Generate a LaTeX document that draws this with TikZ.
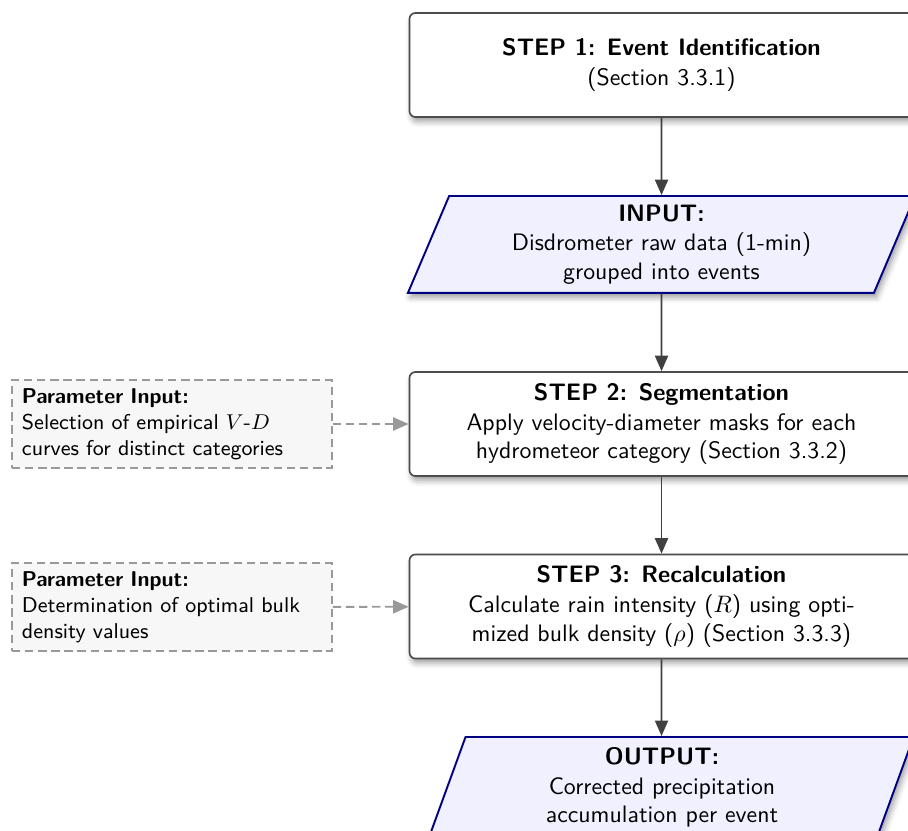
\documentclass[tikz,border=0pt]{standalone}
\usetikzlibrary{shapes.geometric,arrows.meta,shadows.blur}
\begin{document}
\begin{tikzpicture}[x=0.42pt,y=-0.42pt,
  stepbox/.style={draw=black!70, line width=0.7pt, rounded corners=2.5pt, fill=white,
    minimum width=211.7pt, minimum height=43.7pt, align=center, font=\sffamily, inner sep=0pt,
    blur shadow={shadow xshift=1pt, shadow yshift=-1.8pt, shadow blur radius=2.5pt}},
  iobox/.style={trapezium, trapezium left angle=70, trapezium right angle=110, trapezium stretches=true,
    draw=blue!50!black, line width=0.8pt, fill=blue!6, minimum width=213.4pt, minimum height=40.7pt,
    align=center, font=\sffamily, inner sep=0pt,
    blur shadow={shadow xshift=1pt, shadow yshift=-1.8pt, shadow blur radius=2.5pt}},
  parbox/.style={draw=black!40, dash pattern=on 3.5pt off 2pt, line width=0.7pt, fill=black!3,
    text width=126pt, minimum height=36.1pt, inner xsep=4.2pt, align=left, font=\sffamily\small},
  flow/.style={draw=black!75, line width=0.8pt, -{Triangle[width=5.5pt,length=6.5pt]}},
  paramflow/.style={draw=black!40, line width=0.8pt, dash pattern=on 3.5pt off 2pt, -{Triangle[width=5.5pt,length=6.5pt]}}
]
\clip (0,0) rectangle (908,831);
\node[stepbox] (step1) at (661.5,65) {\textbf{STEP 1: Event Identification}\\[0.5pt](Section 3.3.1)};
\node[iobox] (input) at (661.5,244.5) {\textbf{INPUT:}\\[0.5pt]Disdrometer raw data (1-min)\\grouped into events};
\node[stepbox] (step2) at (661.5,424) {\textbf{STEP 2: Segmentation}\\[0.5pt]Apply velocity-diameter masks for each\\hydrometeor category (Section 3.3.2)};
\node[stepbox] (step3) at (661.5,606.5) {\textbf{STEP 3: Recalculation}\\[0.5pt]Calculate rain intensity ($R$) using opti-\\mized bulk density ($\rho$) (Section 3.3.3)};
\node[iobox, trapezium stretches=false, minimum width=0pt, minimum height=0pt, text width=164.6pt, inner xsep=0pt, inner ysep=32.35pt] (outbox) at (661.5,814) {};
\node[align=center, font=\sffamily, inner sep=0pt] (outtext) at (662,787.5) {\textbf{OUTPUT:}\\[0.5pt]Corrected precipitation\\accumulation per event};
\node[parbox] (param1) at (172,424) {\textbf{Parameter Input:}\\Selection of empirical $V$-$D$\\curves for distinct categories};
\node[parbox] (param2) at (172,607) {\textbf{Parameter Input:}\\Determination of optimal bulk\\density values};
\draw[flow] (step1) -- (input);
\draw[flow] (input) -- (step2);
\draw[flow] (step2) -- (step3);
\draw[flow] (step3) -- (outbox);
\draw[paramflow] (param1) -- (step2);
\draw[paramflow] (param2) -- (step3);
\end{tikzpicture}
\end{document}
